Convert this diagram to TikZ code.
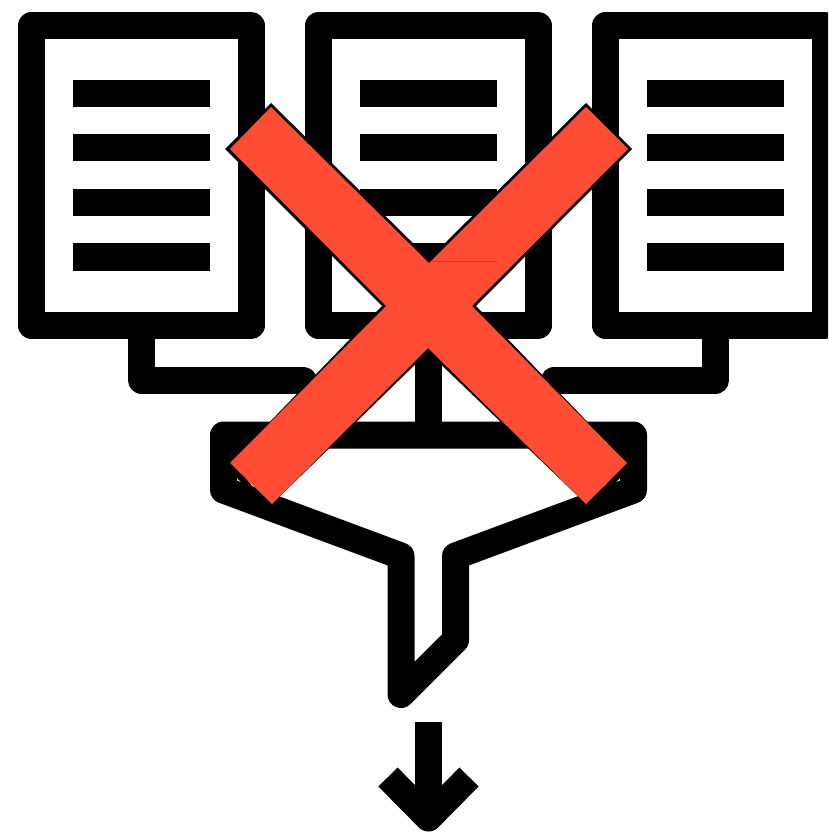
\documentclass[tikz,border=0pt]{standalone}
\definecolor{xred}{HTML}{FF4D35}
\tikzset{
  icon/.style={draw=black,line width=27pt,line join=round},
  textline/.style={fill=black,draw=none},
  conn/.style={draw=black,line width=27pt,line join=round},
}
\begin{document}
\begin{tikzpicture}[x=1pt,y=-1pt]
\useasboundingbox (0,0) rectangle (828,832);
\clip (0,0) rectangle (828,832);
\fill[white] (0,0) rectangle (828,832);
% connectors
\draw[conn] (141.5,330) -- (141.5,380) -- (303,380) -- (303,388);
\draw[conn] (715.5,330) -- (715.5,380) -- (554,380) -- (554,388);
\draw[conn] (428.5,330) -- (428.5,435);
% documents
\foreach \xa in {0,287,574}{
  \draw[icon] (31.5+\xa,25.5) rectangle (251+\xa,325.5);
  \foreach \ya/\yb in {80/107,134/161,189/216,243/271}{
    \fill[textline] (73+\xa,\ya) rectangle (210+\xa,\yb);
  }
}
% funnel
\draw[icon] (223.5,435) -- (223.5,490) -- (401,556) -- (401,694.5) -- (455.5,640)
  -- (455.5,556) -- (633.5,490) -- (633.5,435) -- cycle;
\fill[black] (236,447) -- (253,447) -- (236,464) -- cycle;
\fill[black] (621,447) -- (604,447) -- (621,464) -- cycle;
\fill[black] (236,466) -- (236,477) -- (245,486) -- (252,486) -- cycle;
\fill[black] (621,466) -- (621,477) -- (612,486) -- (605,486) -- cycle;
% arrow
\draw[conn] (428.5,722) -- (428.5,818);
\draw[conn] (388,777) -- (428.5,818) -- (469,777);
% cross
\fill[black] (271,103) -- (429,259) -- (586,103) -- (632,149) -- (476,306) -- (627,463)
  -- (586,504) -- (428,352) -- (272,504) -- (230,463) -- (382,306) -- (225,149) -- cycle;
\fill[xred] (271,107) -- (429,263) -- (586,107) -- (628,149) -- (472,306) -- (627,463)
  -- (586,504) -- (428,348) -- (272,504) -- (230,463) -- (386,306) -- (230,149) -- cycle;
\draw[xred!80!black,line width=0.7pt] (432,261.5) -- (497,261.5);
\end{tikzpicture}
\end{document}
